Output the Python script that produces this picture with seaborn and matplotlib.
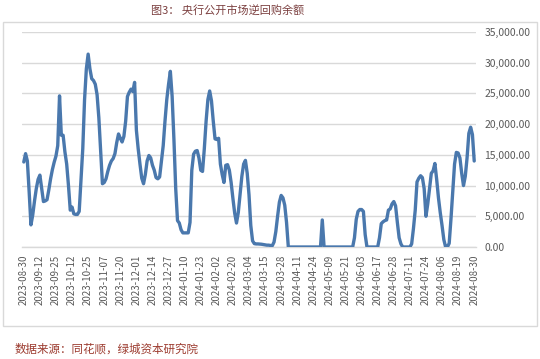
import matplotlib
matplotlib.use("Agg")
import matplotlib.pyplot as plt
from matplotlib.patches import Rectangle
import seaborn as sns
import pandas as pd
import numpy as np

# ---- data ----
balance = [
    13840, 15200, 14000, 9000, 3600, 5200, 7500, 9500, 11000,
    11700, 9500, 7400, 7500, 7700, 9300, 11100, 12600, 13800,
    14800, 16500, 24600, 18200, 18200, 15500, 13500, 10000, 6000,
    6500, 5400, 5300, 5300, 5800, 11000, 16000, 24000, 29000,
    31400, 29000, 27400, 27100, 26500, 24800, 21000, 15500, 10300,
    10500, 11100, 12300, 13300, 14000, 14400, 15200, 17000, 18400,
    17700, 17100, 18000, 20500, 24500, 25200, 25700, 25300, 26800,
    19000, 16000, 13500, 11200, 10300, 11800, 14000, 14900, 14500,
    13300, 12500, 11300, 11100, 11400, 14000, 16500, 20500, 24000,
    26500, 28600, 24500, 17500, 9500, 4300, 3900, 2800, 2300,
    2300, 2300, 2300, 4000, 12500, 15100, 15600, 15700, 14500,
    12500, 12300, 16000, 20500, 24000, 25400, 23800, 20500, 17600,
    17500, 17700, 13500, 11800, 10500, 13300, 13400, 12500, 10500,
    7900, 5500, 3900, 5600, 8500, 11500, 13500, 14100, 12000,
    8500, 3500, 1000, 550, 500, 500, 480, 450, 400,
    350, 300, 300, 250, 200, 800, 2500, 5000, 7300,
    8400, 8000, 6800, 4000, 0, 0, 0, 0, 0,
    0, 0, 0, 0, 0, 0, 0, 0, 0,
    0, 0, 0, 0, 0, 4400, 0, 0, 0,
    0, 0, 0, 0, 0, 0, 0, 0, 0,
    0, 0, 0, 0, 0, 1500, 4500, 5800, 6100,
    6100, 5800, 2000, 0, 0, 0, 0, 0, 0,
    0, 1500, 3800, 4100, 4300, 4400, 6000, 6200, 7000,
    7400, 6700, 4000, 1500, 500, 0, 0, 0, 0,
    0, 500, 3000, 6000, 10600, 11200, 11600, 11300, 9500,
    5000, 7000, 9500, 12000, 12400, 13600, 11000, 8000, 5600,
    3500, 1200, 0, 0, 600, 4600, 9000, 13500, 15400,
    15300, 14500, 12000, 10000, 11500, 14500, 18500, 19500, 18300,
    14000,
]
tick_dates = [
    "2023-08-30", "2023-09-12", "2023-09-25", "2023-10-12", "2023-10-25",
    "2023-11-07", "2023-11-20", "2023-12-01", "2023-12-14", "2023-12-27",
    "2024-01-10", "2024-01-23", "2024-02-02", "2024-02-20", "2024-03-04",
    "2024-03-15", "2024-03-28", "2024-04-11", "2024-04-24", "2024-05-09",
    "2024-05-21", "2024-06-03", "2024-06-17", "2024-06-28", "2024-07-11",
    "2024-07-24", "2024-08-06", "2024-08-19", "2024-08-30",
]
y_ticks = [0, 5000, 10000, 15000, 20000, 25000, 30000, 35000]
title = "图3： 央行公开市场逆回购余额"
source = "数据来源：同花顺，绿城资本研究院"

# ---- style ----
sns.set_style("white")
plt.rcParams["font.family"] = ["Noto Sans CJK SC", "DejaVu Sans"]

W, H = 540, 359
fig = plt.figure(figsize=(W / 100, H / 100), dpi=100)
ax = fig.add_axes([22 / W, (H - 247) / H, (476 - 22) / W, (247 - 32) / H])

df = pd.DataFrame({"idx": np.arange(len(balance)), "balance": balance})
sns.lineplot(data=df, x="idx", y="balance", ax=ax, color="#4a78ad",
             linewidth=2.4, solid_joinstyle="round", zorder=3)

ax.set_xlim(-1, len(balance))
ax.set_ylim(0, 35000)
ax.set_xlabel("")
ax.set_ylabel("")

# y axis on right
ax.yaxis.tick_right()
ax.set_yticks(y_ticks)
ax.set_yticklabels([f"{v:,.2f}" for v in y_ticks], fontsize=7.5, color="#595959")
ax.tick_params(axis="y", length=0, pad=6)
ax.grid(axis="y", color="#d9d9d9", linewidth=1)
ax.grid(axis="x", visible=False)

# x axis
tick_pos = [i * 9 for i in range(len(tick_dates))]
ax.set_xticks(tick_pos)
ax.set_xticklabels(tick_dates, rotation=90, fontsize=7, color="#595959")
ax.set_xticks(np.arange(0, len(balance), 2), minor=True)
ax.tick_params(axis="x", which="both", length=3, direction="inout",
               color="#d9cfc0", width=0.8, pad=4)

for s in ["left", "right", "top"]:
    ax.spines[s].set_visible(False)
ax.spines["bottom"].set_color("#d9d9d9")
ax.spines["bottom"].set_linewidth(1)

# frame around chart
fig.patches.append(Rectangle((3 / W, (H - 326) / H), (537 - 3) / W, (326 - 22) / H,
                             transform=fig.transFigure, fill=False,
                             edgecolor="#d9d9d9", linewidth=1))

fig.text(228 / W, 1 - 10 / H, title, ha="center", va="center",
         fontsize=8, color="#7b3f3f")
fig.text(15 / W, 1 - 349 / H, source, ha="left", va="center",
         fontsize=8.3, color="#9c3b2f", style="italic")

fig.savefig("out.png", dpi=100)
